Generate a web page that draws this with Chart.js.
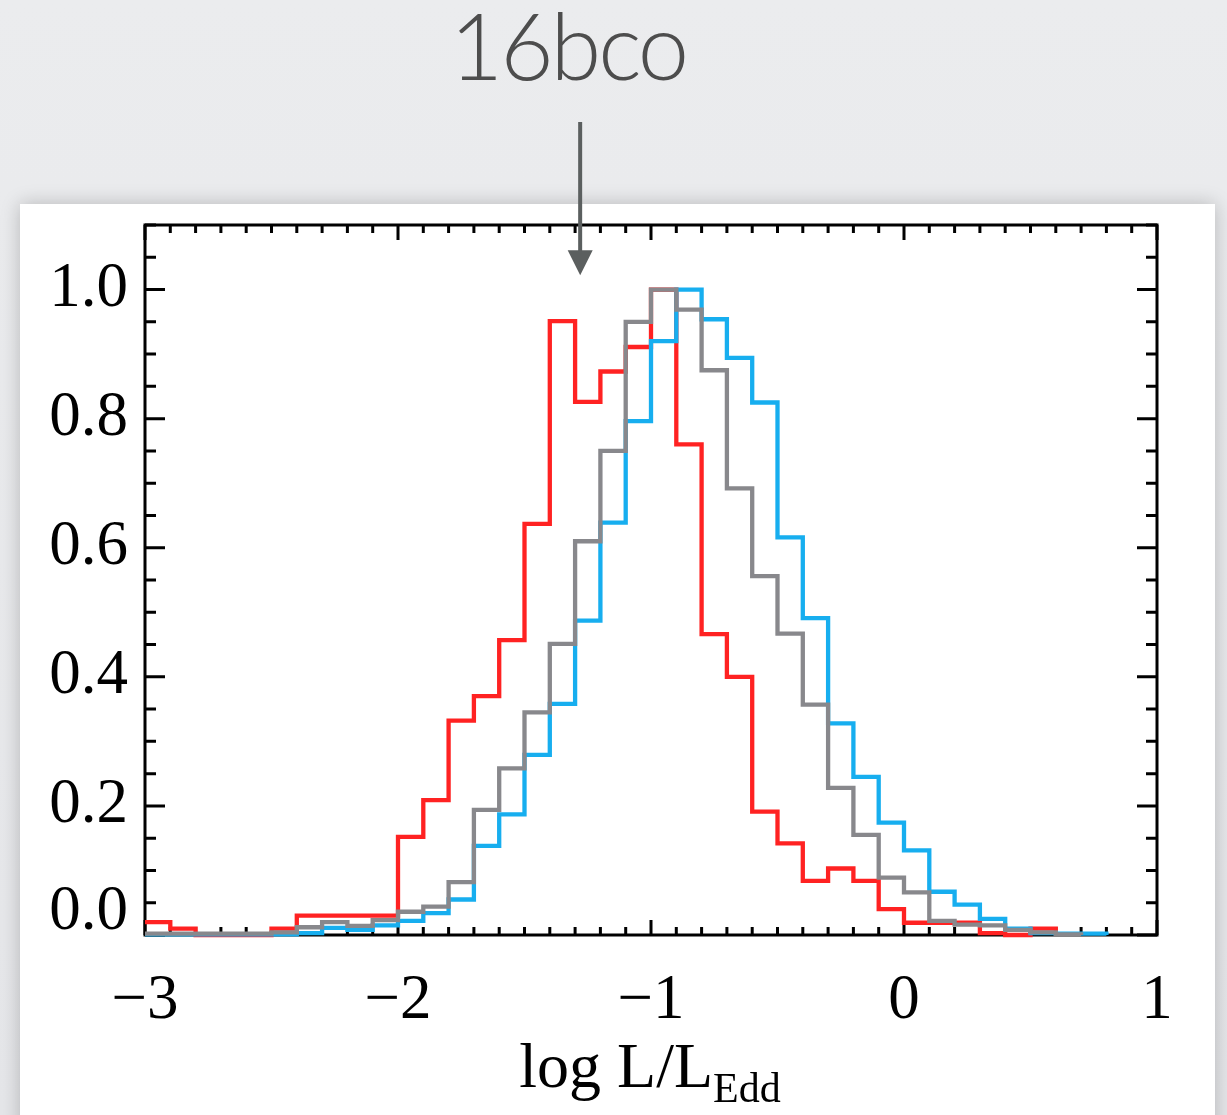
<!DOCTYPE html>
<html><head><meta charset="utf-8">
<script src="https://cdn.jsdelivr.net/npm/chart.js@4.4.1/dist/chart.umd.min.js"></script>
<style>
html,body{margin:0;padding:0;width:1227px;height:1115px;overflow:hidden;background:#e8e9eb;}
#bg{position:absolute;left:0;top:0;width:1227px;height:1115px;background:linear-gradient(#ebecee,#e5e6e9);}
#panel{position:absolute;left:20px;top:204px;width:1195px;height:960px;background:#fff;box-shadow:0 0 18px rgba(0,0,0,0.22);}
#wrap{position:absolute;left:0;top:0;width:1227px;height:1115px;}
#title{position:absolute;left:318px;width:500px;top:-1px;text-align:center;font-family:Lato,'Open Sans',sans-serif;font-weight:300;font-size:92px;line-height:92px;letter-spacing:-3px;color:#4d4d4d;white-space:nowrap;}
#xtitle{position:absolute;left:400px;width:500px;top:1034px;text-align:center;font-family:'Liberation Serif',serif;font-size:64px;line-height:64px;color:#000;white-space:nowrap;}
#xtitle sub{font-size:42px;vertical-align:-15px;line-height:0;}
</style></head>
<body>
<div id="bg"></div><div id="panel"></div>
<div id="title">16bco</div>
<div id="wrap"><canvas id="c" width="1227" height="1115"></canvas></div>
<div id="xtitle">log L/L<sub>Edd</sub></div>
<script>
// bin left edges (bin width 0.1)
const binEdges = [-3.0,-2.9,-2.8,-2.7,-2.6,-2.5,-2.4,-2.3,-2.2,-2.1,
                  -2.0,-1.9,-1.8,-1.7,-1.6,-1.5,-1.4,-1.3,-1.2,-1.1,
                  -1.0,-0.9,-0.8,-0.7,-0.6,-0.5,-0.4,-0.3,-0.2,-0.1,
                   0.0, 0.1, 0.2, 0.3, 0.4, 0.5, 0.6, 0.7, 0.8, 0.9];
const redValues = [0.02,0.01,0,0,0,0.01,0.03,0.03,0.03,0.03,
                   0.152,0.209,0.332,0.37,0.457,0.637,0.951,0.826,0.873,0.911,
                   1.0,0.76,0.466,0.40,0.191,0.142,0.084,0.103,0.084,0.04,
                   0.019,0.019,0.019,0.003,0,0.01,0,null,null,null];
const grayValues = [0.002,0.002,0.002,0.002,0.002,0.004,0.012,0.02,0.014,0.023,
                    0.036,0.044,0.082,0.194,0.258,0.345,0.451,0.61,0.75,0.95,
                    1.0,0.969,0.875,0.692,0.556,0.467,0.357,0.228,0.155,0.089,
                    0.066,0.022,0.016,0.015,0.008,0.004,0.001,0,null,null];
const blueValues = [0.001,0.001,0.001,0.001,0.001,0.001,0.003,0.011,0.008,0.015,
                    0.022,0.034,0.055,0.138,0.187,0.279,0.358,0.487,0.639,0.796,
                    0.92,1.0,0.954,0.894,0.825,0.616,0.491,0.328,0.245,0.174,
                    0.131,0.067,0.047,0.025,0.01,0.003,0.002,0.002,0,null];
const xTickValues = [-3,-2,-1,0,1];
const xTickLabels = ['\u22123','\u22122','\u22121','0','1'];
const yTickValues = [0,0.2,0.4,0.6,0.8,1.0];
const yTickLabels = ['0.0','0.2','0.4','0.6','0.8','1.0'];
const arrowX = -1.28, arrowTipY = 1.022;

function toPoints(vals){ return binEdges.map((x,i)=>({x:x,y:vals[i]})); }

const framePlugin = {
  id:'frame',
  beforeDatasetsDraw(chart){
    const {ctx, chartArea:a, scales:{x,y}} = chart;
    ctx.save();
    ctx.strokeStyle='#000'; ctx.lineWidth=3; ctx.lineCap='butt';
    ctx.strokeRect(a.left,a.top,a.right-a.left,a.bottom-a.top);
    ctx.beginPath();
    for (let k=0;k<=40;k++){
      const px = x.getPixelForValue(x.min + k*0.1);
      const L = (k%10===0)?15:8;
      ctx.moveTo(px,a.bottom); ctx.lineTo(px,a.bottom-L);
      ctx.moveTo(px,a.top); ctx.lineTo(px,a.top+L);
    }
    for (let k=0;k<=22;k++){
      const py = y.getPixelForValue(k*0.05);
      const L = (k%4===0)?20:11;
      ctx.moveTo(a.left,py); ctx.lineTo(a.left+L,py);
      ctx.moveTo(a.right,py); ctx.lineTo(a.right-L,py);
    }
    ctx.stroke();
    ctx.restore();
  },
  afterDraw(chart){
    const {ctx, scales:{x,y}} = chart;
    const ax = x.getPixelForValue(arrowX);
    const tip = y.getPixelForValue(arrowTipY);
    ctx.save();
    ctx.strokeStyle='#5b5f5f'; ctx.fillStyle='#5b5f5f'; ctx.lineWidth=4;
    ctx.beginPath(); ctx.moveTo(ax,122); ctx.lineTo(ax,tip-20); ctx.stroke();
    ctx.beginPath(); ctx.moveTo(ax-12.5,tip-25); ctx.lineTo(ax+12.5,tip-25); ctx.lineTo(ax,tip); ctx.closePath(); ctx.fill();
    ctx.restore();
  }
};

const tickFont = {family:'Liberation Serif', size:63};
// the "0.0" label sits above the bottom axis (IDL style): two-line label with a small line height lifts it
const yTickFont = (c)=> (c.tick && c.tick.value===0) ? {family:'Liberation Serif', size:63, lineHeight:'46px'} : tickFont;
new Chart(document.getElementById('c'), {
  type:'line',
  data:{datasets:[
    {label:'gray', data:toPoints(grayValues), borderColor:'#88888c'},
    {label:'blue', data:toPoints(blueValues), borderColor:'#17aeef'},
    {label:'red', data:toPoints(redValues), borderColor:'#ff2222'}
  ]},
  options:{
    responsive:false, animation:false, devicePixelRatio:1,
    layout:{padding:{left:0,right:70,top:225,bottom:0}},
    datasets:{line:{stepped:'before', borderWidth:4.3, pointRadius:0, clip:false, fill:false, spanGaps:false}},
    plugins:{legend:{display:false}, tooltip:{enabled:false}, title:{display:false}},
    scales:{
      x:{type:'linear', min:-3, max:1,
         grid:{display:false, drawTicks:false}, border:{display:false},
         afterFit:(s)=>{s.height=180;},
         afterBuildTicks:(s)=>{s.ticks = xTickValues.map(v=>({value:v}));},
         ticks:{padding:29, font:tickFont, color:'#000', maxRotation:0, autoSkip:false,
                callback:(v)=>{const i=xTickValues.indexOf(v); return i>=0?xTickLabels[i]:'';}}},
      y:{type:'linear', min:0, max:1.1,
         grid:{display:false, drawTicks:false}, border:{display:false},
         afterFit:(s)=>{s.width=145;},
         afterBuildTicks:(s)=>{s.ticks = yTickValues.map(v=>({value:v}));},
         ticks:{padding:17, font:yTickFont, color:'#000', autoSkip:false,
                callback:(v)=>{const i=yTickValues.indexOf(v); if(i<0) return ''; return v===0?[yTickLabels[i],'']:yTickLabels[i];}}}
    }
  },
  plugins:[framePlugin]
});
</script>
</body></html>
